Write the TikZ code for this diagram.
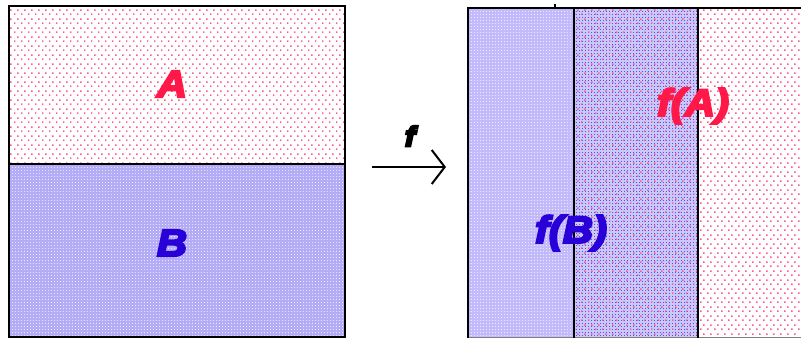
\documentclass[tikz,border=0pt]{standalone}
\usepackage{fontspec}
\setmainfont[FakeStretch=1.1]{Liberation Sans}
\usetikzlibrary{patterns.meta,arrows.meta}
\newcommand\heavytext[1]{\special{pdf:literal direct 2 Tr 2.2 w}#1\special{pdf:literal direct 0 Tr 1 w}}
\definecolor{pinkdot}{HTML}{FF5A8E}
\definecolor{lavB}{HTML}{B4ACF6}
\definecolor{lavL}{HTML}{C2BAFA}
\definecolor{midbg}{HTML}{C8C8FA}
\definecolor{middot}{HTML}{5252F0}
\definecolor{redtxt}{HTML}{FF1848}
\definecolor{bluetxt}{HTML}{2A00D8}
\tikzdeclarepattern{name=pinkdots,type=uncolored,
  bounding box={(0pt,0pt) and (7pt,9pt)},tile size={(7pt,9pt)},
  code={\fill (0pt,0pt) rectangle (1.7pt,1.7pt); \fill (3.5pt,4.5pt) rectangle (5.2pt,6.2pt);}}
\tikzdeclarepattern{name=finedots,type=uncolored,
  bounding box={(0pt,0pt) and (3pt,3pt)},tile size={(3pt,3pt)},
  code={\fill (0pt,0pt) rectangle (1.3pt,1.3pt);}}
\tikzset{
  lbl/.style={font=\bfseries\itshape\fontsize{38}{40}\selectfont},
  border/.style={line width=2.9pt,draw=black},
}
\begin{document}
\begin{tikzpicture}[x=1pt,y=-1pt]
\useasboundingbox (0,0) rectangle (801,338);
\fill[white] (0,0) rectangle (801,338);
% left rectangle
\fill[pattern={pinkdots},pattern color=pinkdot] (9,6) rectangle (345,164);
\fill[lavB] (9,164) rectangle (345,337);
\fill[pattern={finedots},pattern color=white!70!lavB] (9,164) rectangle (345,337);
\draw[border] (9,6) rectangle (345,337);
\draw[border] (9,164) -- (345,164);
\node[lbl,text=redtxt] (A) at (172,84) {\heavytext{A}};
\node[lbl,text=bluetxt] (B) at (172,243) {\heavytext{B}};
% arrow
\coordinate (as) at (372,167);
\coordinate (ae) at (446,167);
\draw[line width=2pt,-{Straight Barb[length=13pt,width=34pt,line width=2pt]}] (as) -- (ae);
\node[font=\bfseries\itshape\fontsize{28}{30}\selectfont] (f) at (410,136) {\heavytext{f}};
% right rectangle
\fill[lavL] (468,8) rectangle (574,337);
\fill[pattern={finedots},pattern color=white!70!lavL] (468,8) rectangle (574,337);
\fill[midbg] (574,8) rectangle (698,337);
\fill[pattern={finedots},pattern color=middot] (574,8) rectangle (698,337);
\fill[pattern={pinkdots},pattern color=pinkdot] (574,8) rectangle (698,337);
\fill[pattern={pinkdots},pattern color=pinkdot] (698,8) rectangle (801,337);
\draw[line width=0.8pt,gray] (468,337) -- (801,337);
\draw[border] (801,8) -- (468,8) -- (468,338);
\draw[border] (574,8) -- (574,338);
\draw[border] (698,8) -- (698,338);
\draw[line width=1.5pt] (555,8) -- (555,4);
\node[lbl,text=redtxt] (fA) at (693,106) {\heavytext{f(A)}};
\node[lbl,text=bluetxt] (fB) at (571,233) {\heavytext{f(B)}};
\end{tikzpicture}
\end{document}
